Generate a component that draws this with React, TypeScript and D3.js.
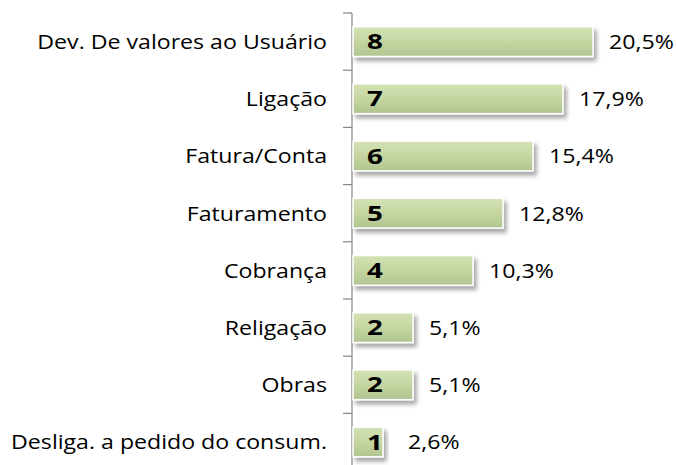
import React from "react";
import * as d3 from "d3";

const categories = [
  "Dev. De valores ao Usuário",
  "Ligação",
  "Fatura/Conta",
  "Faturamento",
  "Cobrança",
  "Religação",
  "Obras",
  "Desliga. a pedido do consum.",
];
const counts = [8, 7, 6, 5, 4, 2, 2, 1];
const percents = ["20,5%", "17,9%", "15,4%", "12,8%", "10,3%", "5,1%", "5,1%", "2,6%"];

const W = 676;
const H = 465;
const FONT = "'Open Sans', sans-serif";

export default function App() {
  const axisX = 352;
  const top = 13;
  const step = 57.2;
  const y = d3
    .scaleBand<string>()
    .domain(categories)
    .range([top, top + step * categories.length])
    .paddingInner(0.48)
    .paddingOuter(0.24);
  const x = d3.scaleLinear().domain([0, 8]).range([axisX + 1, axisX + 1 + 240]);
  const bw = y.bandwidth();
  const sx = 1.14;

  return (
    <svg
      width={W}
      height={H}
      style={{ position: "absolute", left: 0, top: 0, background: "#fff" }}
    >
      <defs>
        <linearGradient id="barGrad" x1="0" y1="0" x2="0" y2="1">
          <stop offset="0" stopColor="#d4e2b5" />
          <stop offset="0.45" stopColor="#c6d7a3" />
          <stop offset="1" stopColor="#b1c490" />
        </linearGradient>
        <filter id="shadow" x="-10%" y="-30%" width="130%" height="180%">
          <feGaussianBlur in="SourceAlpha" stdDeviation="2.2" />
          <feOffset dx="3" dy="4" result="off" />
          <feComponentTransfer>
            <feFuncA type="linear" slope="0.35" />
          </feComponentTransfer>
          <feMerge>
            <feMergeNode />
            <feMergeNode in="SourceGraphic" />
          </feMerge>
        </filter>
      </defs>

      {/* axis line and ticks */}
      <line x1={axisX} x2={axisX} y1={top} y2={H} stroke="#868686" strokeWidth={1.2} />
      {d3.range(categories.length + 1).map((i) => (
        <line
          key={"t" + i}
          x1={axisX - 9}
          x2={axisX}
          y1={top + i * step}
          y2={top + i * step}
          stroke="#868686"
          strokeWidth={1.2}
        />
      ))}

      {categories.map((c, i) => {
        const yy = y(c)!;
        const x1 = x(counts[i]);
        const cy = yy + bw / 2;
        return (
          <g key={c}>
            <rect
              x={x(0)}
              y={yy}
              width={x1 - x(0)}
              height={bw}
              fill="url(#barGrad)"
              stroke="#ffffff"
              strokeWidth={1.5}
              filter="url(#shadow)"
            />
            <text
              transform={`translate(${axisX + 15},${cy}) scale(1.32,1)`}
              dy="0.36em"
              fontFamily={FONT}
              fontWeight={700}
              fontSize={21}
              fill="#000"
            >
              {counts[i]}
            </text>
            <text
              transform={`translate(${Math.max(x1 + 16, 408)},${cy}) scale(${sx},1)`}
              dy="0.36em"
              fontFamily={FONT}
              fontSize={20.3}
              fill="#000"
            >
              {percents[i]}
            </text>
            <text
              transform={`translate(327,${cy}) scale(${sx},1)`}
              dy="0.36em"
              textAnchor="end"
              fontFamily={FONT}
              fontSize={20.3}
              fill="#000"
            >
              {c}
            </text>
          </g>
        );
      })}
    </svg>
  );
}
